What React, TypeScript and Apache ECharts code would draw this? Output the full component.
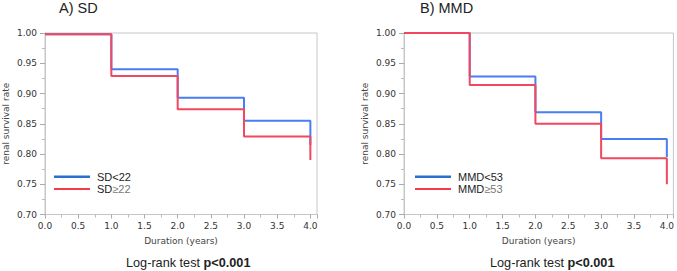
import React, { useEffect, useRef } from "react";
import * as echarts from "echarts";

// Kaplan–Meier renal survival estimates at each yearly step
const durationYears = [0, 1, 2, 3, 4];
const sdLow = [0.998, 0.940, 0.893, 0.855, 0.815];
const sdHigh = [0.998, 0.929, 0.874, 0.829, 0.790];
const mmdLow = [1.0, 0.928, 0.869, 0.825, 0.795];
const mmdHigh = [1.0, 0.914, 0.850, 0.793, 0.750];

const panelTitles = ["A) SD", "B) MMD"];
const seriesNames = [
  ["SD<22", "SD≥22"],
  ["MMD<53", "MMD≥53"],
];
const testLabel = "Log-rank test ";
const pValueLabel = "p<0.001";

const BLUE = "#4a7cf4";
const RED = "#f2475f";
const LEGEND_BLUE = "#2a6fd2";
const LEGEND_RED = "#f53b4b";
const AXIS_FONT = "DejaVu Sans";
const TEXT_FONT = "Liberation Sans, Arial, sans-serif";

const toPairs = (vals: number[]) => durationYears.map((t, i) => [t, vals[i]]);

export default function App() {
  const ref = useRef<HTMLDivElement>(null);

  useEffect(() => {
    if (!ref.current) return;
    const chart = echarts.init(ref.current, undefined, { renderer: "svg" });

    const gridLefts = [45, 404];
    const grids = gridLefts.map((left) => ({
      left,
      top: 33,
      width: 272,
      height: 181.5,
      show: true,
      borderColor: "#c6c6c6",
      borderWidth: 1,
      backgroundColor: "transparent",
    }));

    const xAxes = gridLefts.map((_, i) => ({
      type: "value",
      gridIndex: i,
      min: 0,
      max: 4.1,
      interval: 0.5,
      name: "Duration (years)",
      nameLocation: "middle",
      nameGap: 22,
      nameTextStyle: { fontFamily: AXIS_FONT, fontSize: 9, color: "#444" },
      axisLine: { show: true, lineStyle: { color: "#c6c6c6", width: 1 } },
      axisTick: { show: true, length: 4, lineStyle: { color: "#aaa" } },
      minorTick: { show: true, splitNumber: 2, length: 3, lineStyle: { color: "#bbb" } },
      splitLine: { show: false },
      axisLabel: {
        fontFamily: AXIS_FONT,
        fontSize: 9,
        color: "#333",
        margin: 7,
        showMaxLabel: false,
        formatter: (v: number) => v.toFixed(1),
      },
    }));

    const yAxes = gridLefts.map((_, i) => ({
      type: "value",
      gridIndex: i,
      min: 0.7,
      max: 1.0,
      interval: 0.05,
      name: "renal survival rate",
      nameLocation: "middle",
      nameGap: 35,
      nameTextStyle: { fontFamily: AXIS_FONT, fontSize: 9, color: "#444" },
      axisLine: { show: true, lineStyle: { color: "#c6c6c6", width: 1 } },
      axisTick: { show: true, length: 5, lineStyle: { color: "#aaa" } },
      minorTick: { show: true, splitNumber: 2, length: 3, lineStyle: { color: "#bbb" } },
      splitLine: { show: false },
      axisLabel: {
        fontFamily: AXIS_FONT,
        fontSize: 9,
        color: "#333",
        margin: 8,
        formatter: (v: number) => v.toFixed(2),
      },
    }));

    const curves = [
      [sdLow, sdHigh],
      [mmdLow, mmdHigh],
    ];
    const series: any[] = [];
    curves.forEach((pair, gi) => {
      pair.forEach((vals, k) => {
        series.push({
          type: "line",
          name: seriesNames[gi][k],
          xAxisIndex: gi,
          yAxisIndex: gi,
          step: "end",
          showSymbol: false,
          symbol: "none",
          z: 2 + k,
          itemStyle: { color: k === 0 ? BLUE : RED },
          lineStyle: { color: k === 0 ? BLUE : RED, width: 2 },
          data: toPairs(vals),
        });
      });
    });

    const legendRich = {
      a: { fontFamily: TEXT_FONT, fontSize: 11, color: "#222" },
      b: { fontFamily: TEXT_FONT, fontSize: 11, color: "#777" },
    };
    const legendLefts = [54, 415];
    const legendTops = [171.2, 183.5];
    const legends: any[] = [];
    seriesNames.forEach((names, gi) => {
      names.forEach((name, k) => {
        legends.push({
          left: legendLefts[gi],
          top: legendTops[k],
          padding: 0,
          icon: "rect",
          itemWidth: 36,
          itemHeight: k === 0 ? 2.6 : 2,
          selectedMode: false,
          data: [
            { name, itemStyle: { color: k === 0 ? LEGEND_BLUE : LEGEND_RED } },
          ],
          formatter: (n: string) => {
            const idx = n.indexOf("≥");
            if (idx < 0) return `{a|${n}}`;
            return `{a|${n.slice(0, idx)}}{b|${n.slice(idx)}}`;
          },
          textStyle: {
            fontFamily: TEXT_FONT,
            fontSize: 11,
            color: "#222",
            padding: [0, 0, 0, 2],
            rich: legendRich,
          },
        });
      });
    });

    const titles: any[] = [
      ...panelTitles.map((text, i) => ({
        text,
        left: [59, 420][i],
        top: 0,
        padding: 0,
        textStyle: {
          fontFamily: TEXT_FONT,
          fontSize: 14.5,
          fontWeight: "normal",
          color: "#222",
        },
      })),
      ...[126, 490].map((left) => ({
        text: `{n|${testLabel}}{b|${pValueLabel}}`,
        left,
        top: 256,
        padding: 0,
        textStyle: {
          fontFamily: TEXT_FONT,
          fontSize: 12.7,
          fontWeight: "normal",
          color: "#222",
          rich: {
            n: {
              fontFamily: TEXT_FONT,
              fontSize: 12.7,
              fontWeight: "normal",
              color: "#222",
            },
            b: {
              fontFamily: TEXT_FONT,
              fontSize: 12.7,
              fontWeight: "bold",
              color: "#222",
            },
          },
        },
      })),
    ];

    chart.setOption({
      animation: false,
      backgroundColor: "#ffffff",
      title: titles,
      legend: legends,
      grid: grids,
      xAxis: xAxes,
      yAxis: yAxes,
      series,
    });

    return () => chart.dispose();
  }, []);

  return (
    <div
      ref={ref}
      style={{ position: "fixed", left: 0, top: 0, width: 677, height: 271 }}
    />
  );
}
